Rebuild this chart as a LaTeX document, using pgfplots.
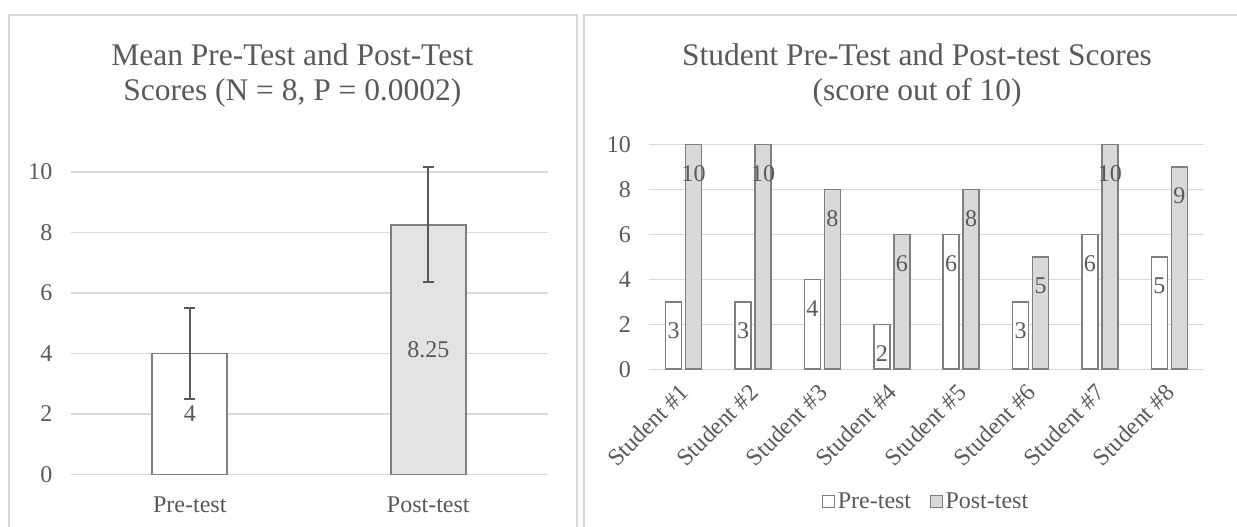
\documentclass[border=0pt]{standalone}
\usepackage{fontspec}
\setmainfont{Liberation Serif}
\usepackage{pgfplots}
\pgfplotsset{compat=1.18}

\definecolor{txt}{HTML}{595959}
\definecolor{gridc}{HTML}{D9D9D9}
\definecolor{edge}{HTML}{7F7F7F}
\definecolor{postl}{HTML}{E3E3E3}
\definecolor{postr}{HTML}{D9D9D9}

\newcommand{\lbl}{\fontsize{18}{20}\selectfont}

\pgfplotsset{
  panel/.style={
    scale only axis,
    ymin=0, ymax=10, ytick={0,2,...,10},
    ymajorgrids, grid style={gridc, line width=1.1pt},
    axis line style={draw=none}, major tick length=0pt,
    tick label style={font=\lbl, text=txt},
    /pgf/number format/assume math mode=true,
    yticklabel style={xshift=-10pt},
    title style={font=\fontsize{23.6}{26.3}\selectfont, text=txt,
                 align=center, anchor=north, inner sep=0pt},
    clip=false,
  }
}

\begin{document}
\begin{tikzpicture}
\path[use as bounding box] (0,0) rectangle (927.75pt,395.25pt);
% chart frames
\draw[gridc, line width=0.9pt] (6.75pt,-2pt) -- (6.75pt,384pt) -- (432.75pt,384pt) -- (432.75pt,-2pt);
\draw[gridc, line width=0.9pt] (438pt,-2pt) -- (438pt,384pt) -- (930pt,384pt);

% left: means with error bars
\begin{axis}[panel,
  at={(52.9pt,39.4pt)}, anchor=south west,
  width=357.75pt, height=226.9pt,
  xmin=-0.5, xmax=1.5, xtick={0,1}, xticklabels={Pre-test,Post-test},
  xticklabel style={yshift=-13pt},
  title={Mean Pre-Test and Post-Test\\Scores (N = 8, P = 0.0002)},
  title style={at={(0.465,1.40)}},
  bar width=56.25pt,
  nodes near coords,
  every node near coord/.append style={font=\lbl, text=txt, anchor=center},
  error bars/error bar style={txt, line width=1.5pt},
  error bars/error mark options={rotate=90, txt, mark size=4.1pt, line width=1.5pt},
]
\addplot[ybar, bar shift=0pt, fill=white, draw=edge, line width=1.2pt,
  every node near coord/.append style={yshift=-45.4pt},
  error bars/.cd, y dir=both, y explicit]
  coordinates {(0,4) +- (0,1.5)};
\addplot[ybar, bar shift=0pt, fill=postl, draw=edge, line width=1.2pt,
  every node near coord/.append style={yshift=-93.6pt},
  error bars/.cd, y dir=both, y explicit]
  coordinates {(1,8.25) +- (0,1.9)};
\end{axis}

% right: per student scores
\begin{axis}[panel,
  at={(486.75pt,118.3pt)}, anchor=south west,
  width=416.25pt, height=168.45pt,
  xmin=-0.5, xmax=7.5, xtick={0,...,7},
  xticklabels={Student \#1,Student \#2,Student \#3,Student \#4,Student \#5,Student \#6,Student \#7,Student \#8},
  xticklabel style={yshift=-12pt, xshift=3pt, rotate=45, anchor=east},
  title={Student Pre-Test and Post-test Scores\\(score out of 10)},
  title style={at={(0.483,1.417)}},
  ybar=3pt, bar width=12pt,
  nodes near coords,
  every node near coord/.append style={font=\lbl, text=txt, anchor=north, inner sep=0pt, yshift=-15pt},
  legend style={at={(0.5,-0.59)}, anchor=center, draw=none, fill=none,
    legend columns=2, font=\lbl, text=txt,
    /tikz/every even column/.append style={column sep=12pt}},
  legend image code/.code={\draw[#1,/tikz/.cd,line width=0.8pt] (0pt,-4.5pt) rectangle (9pt,4.5pt);},
]
\addplot[fill=white, draw=edge, line width=1.2pt]
  coordinates {(0,3) (1,3) (2,4) (3,2) (4,6) (5,3) (6,6) (7,5)};
\addlegendentry{Pre-test}
\addplot[fill=postr, draw=edge, line width=1.2pt]
  coordinates {(0,10) (1,10) (2,8) (3,6) (4,8) (5,5) (6,10) (7,9)};
\addlegendentry{Post-test}
\end{axis}
\end{tikzpicture}
\end{document}
